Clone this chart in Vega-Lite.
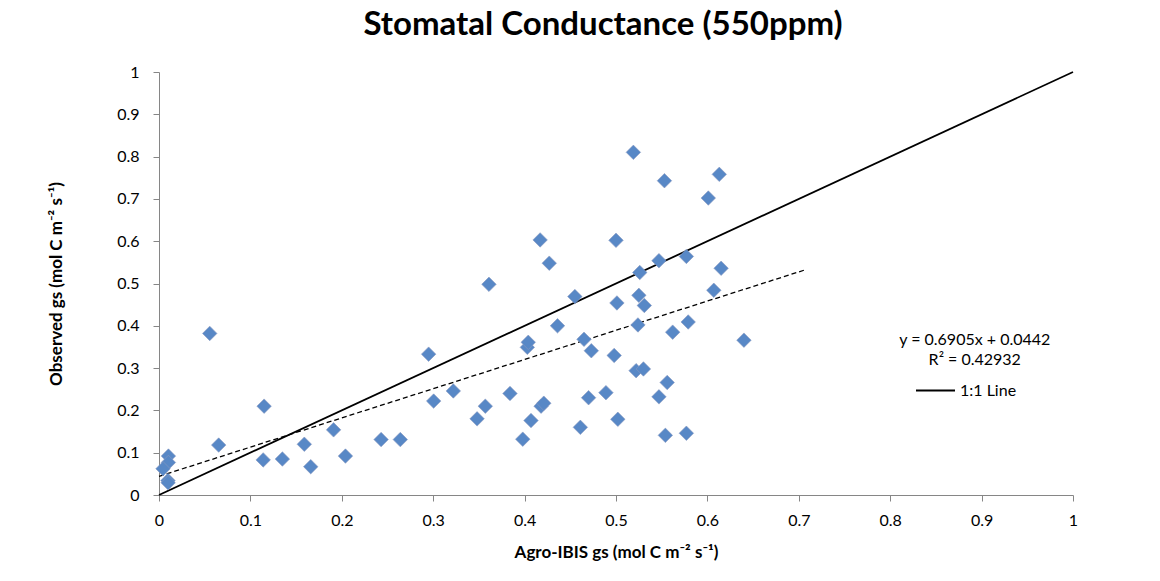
{
  "$schema": "https://vega.github.io/schema/vega-lite/v6.json",
  "width": 914,
  "height": 423,
  "autosize": {"type": "none"},
  "padding": {"left": 159, "top": 72, "right": 87, "bottom": 86},
  "background": "white",
  "title": {"text": "Stomatal Conductance (550ppm)", "font": "Lato", "fontSize": 33, "fontWeight": "bold", "color": "black", "anchor": "middle", "offset": 22, "dx": -13},
  "config": {"view": {"stroke": null}, "font": "Lato"},
  "datasets": {
    "points": [
      {"x": 0.0555, "y": 0.382}, {"x": 0.0103, "y": 0.092}, {"x": 0.0103, "y": 0.077}, {"x": 0.0044, "y": 0.062},
      {"x": 0.0098, "y": 0.034}, {"x": 0.010, "y": 0.029}, {"x": 0.0653, "y": 0.118}, {"x": 0.115, "y": 0.210},
      {"x": 0.114, "y": 0.083}, {"x": 0.135, "y": 0.085}, {"x": 0.166, "y": 0.067}, {"x": 0.159, "y": 0.120},
      {"x": 0.191, "y": 0.154}, {"x": 0.204, "y": 0.092}, {"x": 0.243, "y": 0.131}, {"x": 0.264, "y": 0.131},
      {"x": 0.295, "y": 0.333}, {"x": 0.3005, "y": 0.222}, {"x": 0.322, "y": 0.246}, {"x": 0.348, "y": 0.180},
      {"x": 0.357, "y": 0.210}, {"x": 0.361, "y": 0.498}, {"x": 0.384, "y": 0.240}, {"x": 0.398, "y": 0.132},
      {"x": 0.403, "y": 0.349}, {"x": 0.404, "y": 0.361}, {"x": 0.407, "y": 0.176}, {"x": 0.417, "y": 0.603},
      {"x": 0.418, "y": 0.210}, {"x": 0.421, "y": 0.217}, {"x": 0.427, "y": 0.548}, {"x": 0.436, "y": 0.400},
      {"x": 0.455, "y": 0.469}, {"x": 0.461, "y": 0.160}, {"x": 0.465, "y": 0.368}, {"x": 0.470, "y": 0.230},
      {"x": 0.473, "y": 0.341}, {"x": 0.489, "y": 0.242}, {"x": 0.498, "y": 0.330}, {"x": 0.500, "y": 0.602},
      {"x": 0.501, "y": 0.454}, {"x": 0.502, "y": 0.179}, {"x": 0.519, "y": 0.810}, {"x": 0.522, "y": 0.294},
      {"x": 0.524, "y": 0.402}, {"x": 0.525, "y": 0.472}, {"x": 0.526, "y": 0.526}, {"x": 0.530, "y": 0.298},
      {"x": 0.531, "y": 0.448}, {"x": 0.547, "y": 0.554}, {"x": 0.547, "y": 0.232}, {"x": 0.553, "y": 0.743},
      {"x": 0.554, "y": 0.141}, {"x": 0.556, "y": 0.266}, {"x": 0.562, "y": 0.385}, {"x": 0.577, "y": 0.564},
      {"x": 0.579, "y": 0.409}, {"x": 0.577, "y": 0.146}, {"x": 0.601, "y": 0.702}, {"x": 0.607, "y": 0.484},
      {"x": 0.613, "y": 0.758}, {"x": 0.615, "y": 0.536}, {"x": 0.640, "y": 0.366}
    ],
    "oneone": [{"x": 0, "y": 0, "s": "1:1 Line"}, {"x": 1, "y": 1, "s": "1:1 Line"}],
    "trend": [{"x": 0, "y": 0.0442}, {"x": 0.708, "y": 0.533}],
    "annot": [
      {"x": 0.8925, "y": 0.367, "t": "y = 0.6905x + 0.0442"},
      {"x": 0.8925, "y": 0.318, "t": "R² = 0.42932"}
    ]
  },
  "encoding": {
    "x": {
      "field": "x", "type": "quantitative",
      "scale": {"domain": [0, 1], "nice": false, "zero": false},
      "axis": {
        "values": [0, 0.1, 0.2, 0.3, 0.4, 0.5, 0.6, 0.7, 0.8, 0.9, 1], "format": "~g",
        "grid": false, "domainColor": "#868686", "tickColor": "#868686", "tickSize": 6,
        "labelFont": "Lato", "labelFontSize": 16, "labelColor": "black", "labelPadding": 11, "labelFlush": false,
        "title": "Agro-IBIS gs (mol C m⁻² s⁻¹)", "titleFont": "Lato", "titleFontSize": 17, "titleFontWeight": "bold",
        "titleColor": "black", "titlePadding": 16
      }
    },
    "y": {
      "field": "y", "type": "quantitative",
      "scale": {"domain": [0, 1], "nice": false, "zero": false},
      "axis": {
        "values": [0, 0.1, 0.2, 0.3, 0.4, 0.5, 0.6, 0.7, 0.8, 0.9, 1], "format": "~g",
        "grid": false, "domainColor": "#868686", "tickColor": "#868686", "tickSize": 6,
        "labelFont": "Lato", "labelFontSize": 16, "labelColor": "black", "labelPadding": 14, "labelFlush": false,
        "title": "Observed gs (mol C m⁻² s⁻¹)", "titleFont": "Lato", "titleFontSize": 17, "titleFontWeight": "bold",
        "titleColor": "black", "titlePadding": 51
      }
    }
  },
  "layer": [
    {
      "data": {"name": "oneone"},
      "mark": {"type": "line", "strokeWidth": 1.8},
      "encoding": {
        "stroke": {
          "field": "s", "type": "nominal",
          "scale": {"domain": ["1:1 Line"], "range": ["black"]},
          "legend": {
            "orient": "none", "legendX": 756, "legendY": 298, "title": null,
            "symbolType": "stroke", "symbolSize": 1521, "symbolStrokeWidth": 1.8, "symbolStrokeColor": "black",
            "labelFont": "Lato", "labelFontSize": 16, "labelColor": "black", "labelOffset": 4
          }
        }
      }
    },
    {
      "data": {"name": "trend"},
      "mark": {"type": "line", "stroke": "black", "strokeWidth": 1.3, "strokeDash": [5, 3]}
    },
    {
      "data": {"name": "points"},
      "mark": {"type": "point", "shape": "diamond", "filled": true, "size": 210, "fill": "#5888C6", "stroke": "#8A98C0", "strokeWidth": 0.6, "opacity": 1}
    },
    {
      "data": {"name": "annot"},
      "mark": {"type": "text", "font": "Lato", "fontSize": 16, "color": "black", "align": "center", "baseline": "middle"},
      "encoding": {"text": {"field": "t", "type": "nominal"}}
    }
  ]
}
